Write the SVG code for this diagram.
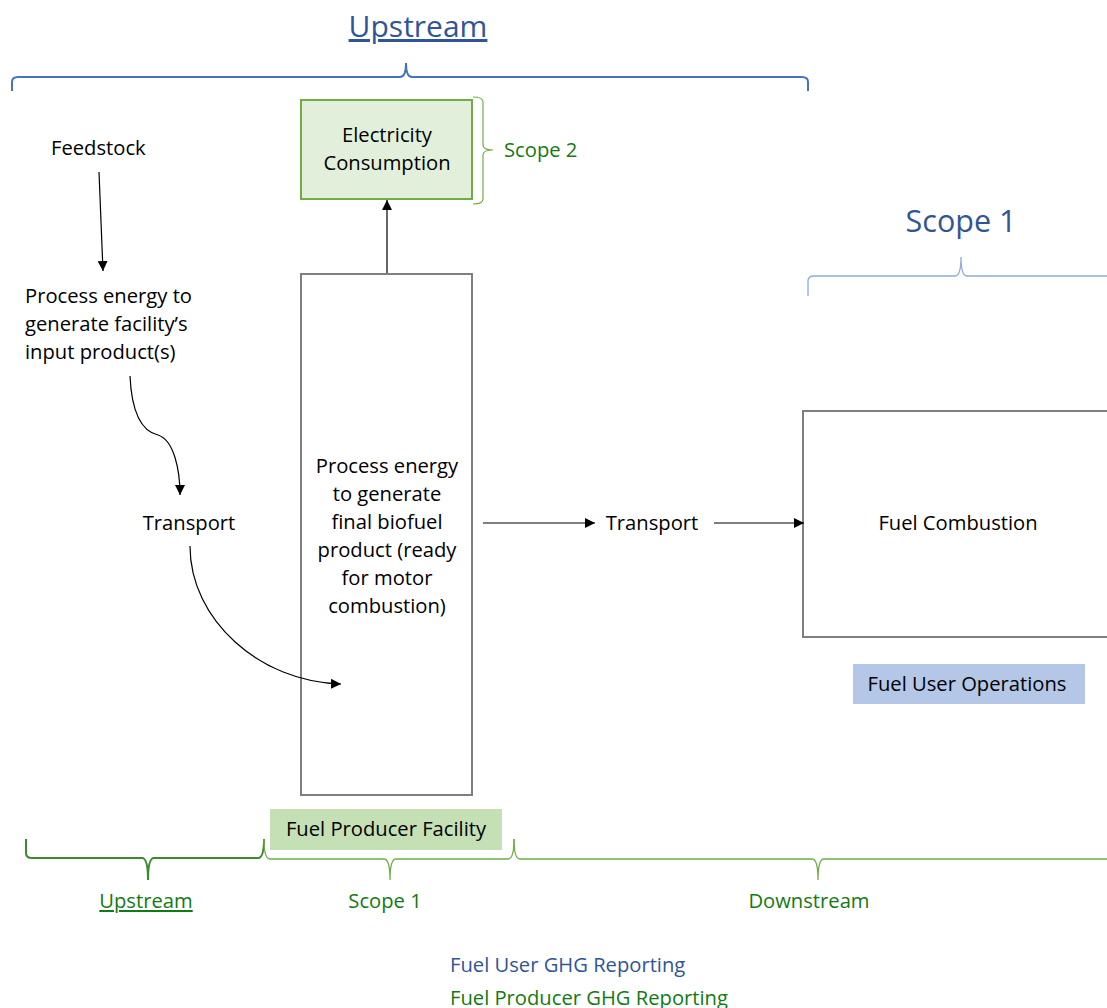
<svg xmlns="http://www.w3.org/2000/svg" width="1107" height="1008" viewBox="0 0 1107 1008">
<defs>
<marker id="ah" viewBox="0 0 10 10" refX="10" refY="5" markerWidth="10" markerHeight="10" markerUnits="userSpaceOnUse" orient="auto">
<path d="M0,0 L10,5 L0,10 z" fill="#000"/>
</marker>
</defs>
<style>
text{font-family:"Open Sans","Liberation Sans",sans-serif;font-size:20.2px;fill:#000}
.c{text-anchor:middle}
.blue{fill:#2F5597}
.green{fill:#127A12}
.box{fill:#fff;stroke:#7F7F7F;stroke-width:2}
.conn{fill:none;stroke:#000;stroke-width:1.2}
.brace{fill:none}
</style>
<rect width="1107" height="1008" fill="#fff"/>

<g id="upstream-top">
<text class="c blue" x="418" y="37" style="font-size:30px;text-decoration:underline">Upstream</text>
<path class="brace" stroke="#4472C4" stroke-width="2" d="M12,91 V82 Q12,77 18,77 H400 Q406,77 406,63 Q406,77 412,77 H802 Q808,77 808,82 V91"/>
</g>

<g id="electricity">
<rect x="301" y="100" width="171" height="99" fill="#E2EFDA" stroke="#70AD47" stroke-width="2"/>
<text class="c" x="387" y="142">Electricity</text>
<text class="c" x="387" y="170">Consumption</text>
</g>

<g id="scope2">
<path class="brace" stroke="#70AD47" stroke-width="1.2" d="M473,97 Q483,97 483,102 V145 Q483,150 493,150 Q483,150 483,155 V199 Q483,204 473,204"/>
<text class="green" x="504" y="157">Scope 2</text>
</g>

<g id="feedstock"><text x="51" y="155">Feedstock</text></g>

<g id="process-input">
<text x="25" y="303">Process energy to</text>
<text x="25" y="331">generate facility’s</text>
<text x="25" y="359">input product(s)</text>
</g>

<g id="transport1"><text class="c" x="189" y="530">Transport</text></g>

<g id="producer">
<rect class="box" x="301" y="274" width="171" height="521"/>
<text class="c" x="387" y="473">Process energy</text>
<text class="c" x="387" y="501">to generate</text>
<text class="c" x="387" y="529">final biofuel</text>
<text class="c" x="387" y="557">product (ready</text>
<text class="c" x="387" y="585">for motor</text>
<text class="c" x="387" y="613">combustion)</text>
</g>

<g id="transport2"><text class="c" x="652" y="530">Transport</text></g>

<g id="combustion">
<rect class="box" x="803" y="411" width="320" height="226"/>
<text class="c" x="958" y="530">Fuel Combustion</text>
</g>

<g id="scope1-top">
<text class="c blue" x="961" y="232" style="font-size:30.5px">Scope 1</text>
<path class="brace" stroke="#8FAADC" stroke-width="1.3" d="M808,296 V281 Q808,276 814,276 H955 Q961,276 961,257 Q961,276 967,276 H1110"/>
</g>

<g id="fuel-user-ops">
<rect x="853" y="664" width="232" height="40" fill="#B4C7E7"/>
<text class="c" x="967" y="691">Fuel User Operations</text>
</g>

<g id="fuel-producer-facility">
<rect x="270" y="809" width="232" height="41" fill="#C5E0B4"/>
<text class="c" x="386" y="836">Fuel Producer Facility</text>
</g>

<g id="bottom-braces">
<path class="brace" stroke="#3C8A2E" stroke-width="2" d="M26,839 V853 Q26,858 32,858 H142 Q148,858 148,880 Q148,858 154,858 H258 Q264,858 264,839"/>
<path class="brace" stroke="#70AD47" stroke-width="1.3" d="M264,839 Q264,859 270,859 H384 Q390,859 390,880 Q390,859 396,859 H508 Q514,859 514,839"/>
<path class="brace" stroke="#70AD47" stroke-width="1.3" d="M514,839 Q514,859 520,859 H812 Q818,859 818,880 Q818,859 824,859 H1110"/>
<text class="c green" x="146" y="908" style="text-decoration:underline">Upstream</text>
<text class="c green" x="385" y="908">Scope 1</text>
<text class="c green" x="809" y="908">Downstream</text>
</g>

<g id="legend">
<text class="blue" x="450" y="972">Fuel User GHG Reporting</text>
<text class="green" x="450" y="1005">Fuel Producer GHG Reporting</text>
</g>

<g id="connectors">
<path class="conn" marker-end="url(#ah)" d="M99,172 L103,271"/>
<path class="conn" marker-end="url(#ah)" d="M387,273 L387,200"/>
<path class="conn" marker-end="url(#ah)" d="M130,376 C132,420 145,432 158,435 C174,440 180,470 180,495"/>
<path class="conn" marker-end="url(#ah)" d="M190,546 C190,620 260,682 341,684"/>
<path class="conn" marker-end="url(#ah)" d="M483,523 L595,523"/>
<path class="conn" marker-end="url(#ah)" d="M714,523 L804,523"/>
</g>
</svg>
